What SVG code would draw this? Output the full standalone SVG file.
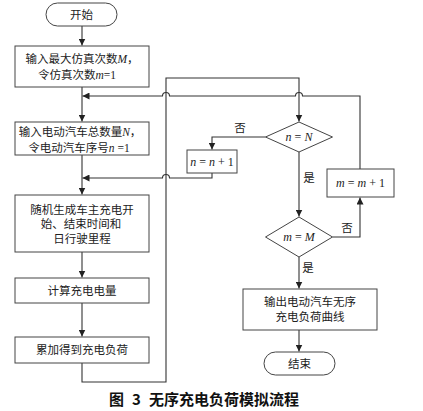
<svg xmlns="http://www.w3.org/2000/svg" width="423" height="411" viewBox="0 0 423 411">
<style>
.box{fill:#fff;stroke:#444;stroke-width:1}
.ln{fill:none;stroke:#333;stroke-width:1.1}
.t{font-family:"Liberation Serif","Noto Sans CJK SC",serif;font-size:11.5px;fill:#222;text-anchor:middle}
.m{font-family:"Liberation Serif",serif;font-size:12px;fill:#222;text-anchor:middle}
.i{font-style:italic}
.cap{font-family:"Noto Sans CJK SC",sans-serif;font-size:15px;font-weight:bold;fill:#111;text-anchor:middle}
</style>
<defs>
<marker id="ah" markerUnits="userSpaceOnUse" markerWidth="8" markerHeight="7" refX="7" refY="3.5" orient="auto">
<path d="M0,0 L7,3.5 L0,7 z" fill="#222"/>
</marker>
</defs>
<rect width="423" height="411" fill="#fff"/>
<g id="connectors">
<path class="ln" d="M82,26 V45.5" marker-end="url(#ah)"/>
<path class="ln" d="M82,87 V121.5" marker-end="url(#ah)"/>
<path class="ln" d="M82,155 V194.5" marker-end="url(#ah)"/>
<path class="ln" d="M82,252 V277.5" marker-end="url(#ah)"/>
<path class="ln" d="M82,303 V336.5" marker-end="url(#ah)"/>
<path class="ln" d="M82,363 V382 H166 V78 H299 V121.5" marker-end="url(#ah)"/>
<path class="ln" d="M360,169 V96 H302.5 A3.5,3.5 0 0 0 295.5,96 H169.5 A3.5,3.5 0 0 0 162.5,96 H82.5" marker-end="url(#ah)"/>
<path class="ln" d="M265.5,137 H212 V149.5" marker-end="url(#ah)"/>
<path class="ln" d="M212,173 V178 H169.5 A3.5,3.5 0 0 0 162.5,178 H82.5" marker-end="url(#ah)"/>
<path class="ln" d="M299,152 V216.5" marker-end="url(#ah)"/>
<path class="ln" d="M332.5,237 H360 V197.5" marker-end="url(#ah)"/>
<path class="ln" d="M299,257 V288.5" marker-end="url(#ah)"/>
<path class="ln" d="M299,330 V351.5" marker-end="url(#ah)"/>
<text class="t" x="240" y="132">否</text>
<text class="t" x="309" y="182">是</text>
<text class="t" x="347" y="232">否</text>
<text class="t" x="308" y="272">是</text>
</g>
<g id="start">
<rect class="box" x="46" y="3" width="71" height="23" rx="11.5"/>
<text class="t" x="81.5" y="18.5">开始</text>
</g>
<g id="input-m">
<rect class="box" x="15" y="46" width="134" height="41"/>
<text class="t" x="82" y="63">输入最大仿真次数<tspan class="i">M</tspan>，</text>
<text class="t" x="77" y="79">令仿真次数<tspan class="i">m</tspan>=1</text>
</g>
<g id="input-n">
<rect class="box" x="15" y="122" width="134" height="33"/>
<text class="t" x="80" y="136">输入电动汽车总数量<tspan class="i">N</tspan>，</text>
<text class="t" x="79" y="151.5">令电动汽车序号<tspan class="i">n</tspan> =1</text>
</g>
<g id="random">
<rect class="box" x="15" y="195" width="134" height="57"/>
<text class="t" x="82" y="213.5">随机生成车主充电开</text>
<text class="t" x="81" y="228">始、结束时间和</text>
<text class="t" x="82" y="242.5">日行驶里程</text>
</g>
<g id="calc">
<rect class="box" x="15" y="278" width="134" height="25"/>
<text class="t" x="82" y="294.5">计算充电电量</text>
</g>
<g id="accumulate">
<rect class="box" x="15" y="337" width="134" height="26"/>
<text class="t" x="82" y="354">累加得到充电负荷</text>
</g>
<g id="dec-n">
<polygon class="box" points="299,122 332.5,137 299,152 265.5,137"/>
<text class="m" x="299" y="141"><tspan class="i">n</tspan> = <tspan class="i">N</tspan></text>
</g>
<g id="inc-n">
<rect class="box" x="187" y="150" width="50" height="23"/>
<text class="m" x="212" y="165.5"><tspan class="i">n</tspan> = <tspan class="i">n</tspan> + 1</text>
</g>
<g id="dec-m">
<polygon class="box" points="299,217 332.5,237 299,257 265.5,237"/>
<text class="m" x="299" y="241"><tspan class="i">m</tspan> = <tspan class="i">M</tspan></text>
</g>
<g id="inc-m">
<rect class="box" x="327" y="169" width="67" height="28"/>
<text class="m" x="360.5" y="187"><tspan class="i">m</tspan> = <tspan class="i">m</tspan> + 1</text>
</g>
<g id="output">
<rect class="box" x="243" y="289" width="134" height="41"/>
<text class="t" x="310" y="306">输出电动汽车无序</text>
<text class="t" x="310" y="321">充电负荷曲线</text>
</g>
<g id="end">
<rect class="box" x="264" y="352" width="71" height="23" rx="11.5"/>
<text class="t" x="299.5" y="367.5">结束</text>
</g>
<text class="cap" x="204" y="405">图<tspan dx="8">3</tspan><tspan dx="8">无序充电负荷模拟流程</tspan></text>
</svg>
